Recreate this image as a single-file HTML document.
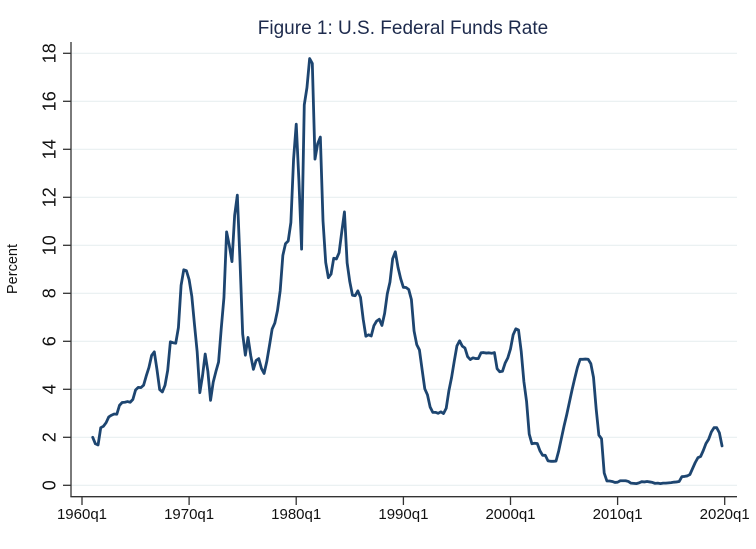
<!DOCTYPE html>
<html>
<head>
<meta charset="utf-8">
<style>
html,body{margin:0;padding:0;background:#fff;}
svg{display:block;}
text{font-family:"Liberation Sans",Arial,Helvetica,sans-serif;}
</style>
</head>
<body>
<svg width="756" height="549" viewBox="0 0 756 549" xmlns="http://www.w3.org/2000/svg">
<rect x="0" y="0" width="756" height="549" fill="#ffffff"/>
<!-- title -->
<text x="403" y="34" font-size="19" text-anchor="middle" fill="#1e2b4d">Figure 1: U.S. Federal Funds Rate</text>
<!-- gridlines -->
<g stroke="#e8eff1" stroke-width="1.2">
<line x1="71" x2="737" y1="485.3" y2="485.3"/>
<line x1="71" x2="737" y1="437.3" y2="437.3"/>
<line x1="71" x2="737" y1="389.3" y2="389.3"/>
<line x1="71" x2="737" y1="341.3" y2="341.3"/>
<line x1="71" x2="737" y1="293.3" y2="293.3"/>
<line x1="71" x2="737" y1="245.3" y2="245.3"/>
<line x1="71" x2="737" y1="197.3" y2="197.3"/>
<line x1="71" x2="737" y1="149.3" y2="149.3"/>
<line x1="71" x2="737" y1="101.3" y2="101.3"/>
<line x1="71" x2="737" y1="53.3" y2="53.3"/>
</g>
<!-- axes -->
<g stroke="#333" stroke-width="1.3" fill="none">
<line x1="71" y1="42" x2="71" y2="497"/>
<line x1="70.4" y1="496.7" x2="737" y2="496.7"/>
<line x1="63" x2="71" y1="485.3" y2="485.3"/>
<line x1="63" x2="71" y1="437.3" y2="437.3"/>
<line x1="63" x2="71" y1="389.3" y2="389.3"/>
<line x1="63" x2="71" y1="341.3" y2="341.3"/>
<line x1="63" x2="71" y1="293.3" y2="293.3"/>
<line x1="63" x2="71" y1="245.3" y2="245.3"/>
<line x1="63" x2="71" y1="197.3" y2="197.3"/>
<line x1="63" x2="71" y1="149.3" y2="149.3"/>
<line x1="63" x2="71" y1="101.3" y2="101.3"/>
<line x1="63" x2="71" y1="53.3" y2="53.3"/>
<line x1="82" x2="82" y1="496.7" y2="505"/>
<line x1="189.1" x2="189.1" y1="496.7" y2="505"/>
<line x1="296.2" x2="296.2" y1="496.7" y2="505"/>
<line x1="403.4" x2="403.4" y1="496.7" y2="505"/>
<line x1="510.5" x2="510.5" y1="496.7" y2="505"/>
<line x1="617.6" x2="617.6" y1="496.7" y2="505"/>
<line x1="724.7" x2="724.7" y1="496.7" y2="505"/>
</g>
<!-- y tick labels -->
<g font-size="18" fill="#111" text-anchor="middle">
<text transform="translate(55.5,485.3) rotate(-90)">0</text>
<text transform="translate(55.5,437.3) rotate(-90)">2</text>
<text transform="translate(55.5,389.3) rotate(-90)">4</text>
<text transform="translate(55.5,341.3) rotate(-90)">6</text>
<text transform="translate(55.5,293.3) rotate(-90)">8</text>
<text transform="translate(55.5,245.3) rotate(-90)">10</text>
<text transform="translate(55.5,197.3) rotate(-90)">12</text>
<text transform="translate(55.5,149.3) rotate(-90)">14</text>
<text transform="translate(55.5,101.3) rotate(-90)">16</text>
<text transform="translate(55.5,53.3) rotate(-90)">18</text>
</g>
<text transform="translate(17,269) rotate(-90)" font-size="14.5" fill="#111" text-anchor="middle">Percent</text>
<!-- x tick labels -->
<g font-size="15" fill="#111" text-anchor="middle">
<text x="82" y="519">1960q1</text>
<text x="189.1" y="519">1970q1</text>
<text x="296.2" y="519">1980q1</text>
<text x="403.4" y="519">1990q1</text>
<text x="510.5" y="519">2000q1</text>
<text x="617.6" y="519">2010q1</text>
<text x="724.7" y="519">2020q1</text>
</g>
<!-- series -->
<polyline transform="matrix(2.678 0 0 -24 92.712 485.3)" vector-effect="non-scaling-stroke" fill="none" stroke="#1d4570" stroke-width="2.8" stroke-linejoin="round" stroke-linecap="round"
points="0,2 1,1.73 2,1.68 3,2.4 4,2.46 5,2.61 6,2.85 7,2.92 8,2.97 9,2.96 10,3.33 11,3.45 12,3.46 13,3.49 14,3.46 15,3.58 16,3.97 17,4.08 18,4.07 19,4.17 20,4.56 21,4.91 22,5.41 23,5.56 24,4.82 25,3.99 26,3.89 27,4.17 28,4.79 29,5.98 30,5.94 31,5.92 32,6.57 33,8.33 34,8.98 35,8.94 36,8.57 37,7.88 38,6.7 39,5.57 40,3.86 41,4.56 42,5.47 43,4.75 44,3.54 45,4.3 46,4.74 47,5.14 48,6.54 49,7.82 50,10.56 51,10 52,9.32 53,11.25 54,12.09 55,9.35 56,6.3 57,5.42 58,6.16 59,5.41 60,4.83 61,5.2 62,5.28 63,4.87 64,4.66 65,5.16 66,5.82 67,6.51 68,6.76 69,7.28 70,8.1 71,9.58 72,10.07 73,10.18 74,10.95 75,13.58 76,15.05 77,12.69 78,9.84 79,15.85 80,16.57 81,17.78 82,17.58 83,13.59 84,14.23 85,14.51 86,11.01 87,9.29 88,8.65 89,8.8 90,9.46 91,9.43 92,9.69 93,10.56 94,11.39 95,9.27 96,8.48 97,7.92 98,7.9 99,8.1 100,7.83 101,6.92 102,6.21 103,6.27 104,6.22 105,6.65 106,6.84 107,6.92 108,6.66 109,7.16 110,7.98 111,8.47 112,9.44 113,9.73 114,9.08 115,8.61 116,8.25 117,8.24 118,8.16 119,7.74 120,6.43 121,5.86 122,5.64 123,4.82 124,4.02 125,3.77 126,3.26 127,3.04 128,3.04 129,3 130,3.06 131,2.99 132,3.21 133,3.94 134,4.49 135,5.17 136,5.81 137,6.02 138,5.8 139,5.72 140,5.36 141,5.24 142,5.31 143,5.28 144,5.28 145,5.52 146,5.53 147,5.51 148,5.52 149,5.5 150,5.53 151,4.86 152,4.73 153,4.75 154,5.09 155,5.31 156,5.68 157,6.27 158,6.52 159,6.47 160,5.59 161,4.33 162,3.5 163,2.13 164,1.73 165,1.75 166,1.74 167,1.44 168,1.25 169,1.25 170,1.02 171,1 172,1 173,1.01 174,1.43 175,1.95 176,2.47 177,2.94 178,3.46 179,3.98 180,4.46 181,4.91 182,5.25 183,5.25 184,5.26 185,5.25 186,5.07 187,4.5 188,3.18 189,2.09 190,1.94 191,0.51 192,0.18 193,0.18 194,0.16 195,0.12 196,0.13 197,0.19 198,0.19 199,0.19 200,0.16 201,0.09 202,0.08 203,0.07 204,0.1 205,0.15 206,0.14 207,0.16 208,0.14 209,0.12 210,0.08 211,0.09 212,0.07 213,0.09 214,0.09 215,0.1 216,0.11 217,0.13 218,0.14 219,0.16 220,0.36 221,0.37 222,0.39 223,0.45 224,0.7 225,0.95 226,1.15 227,1.2 228,1.45 229,1.74 230,1.92 231,2.22 232,2.4 233,2.4 234,2.19 235,1.64"/>
</svg>
</body>
</html>
